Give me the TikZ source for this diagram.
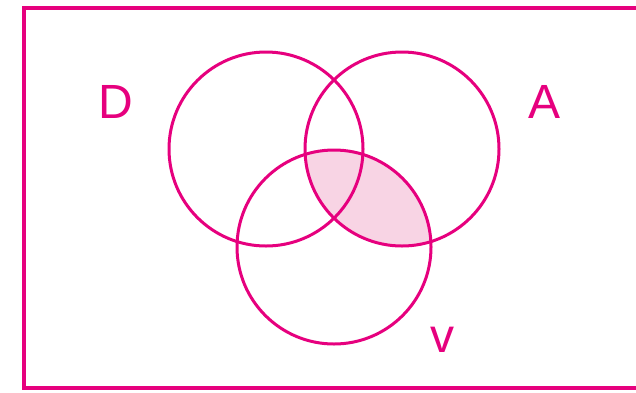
\documentclass[tikz,border=0pt]{standalone}
\usepackage{fontspec}
\setmainfont{Liberation Sans}
\definecolor{mag}{RGB}{230,0,126}
\definecolor{pinkfill}{RGB}{248,212,228}
\begin{document}
\begin{tikzpicture}[x=1pt,y=-1pt,
  setcirc/.style={draw=mag,line width=3pt},
  setlabel/.style={text=mag,font=\fontsize{48}{48}\selectfont,anchor=base,inner sep=0pt}]
\useasboundingbox (0,0) rectangle (636,392);
\coordinate (cD) at (266,149);
\coordinate (cA) at (402,149);
\coordinate (cV) at (334,247);
\begin{scope}
  \clip (cA) circle (97);
  \fill[pinkfill] (cV) circle (97);
\end{scope}
\draw[setcirc] (cD) circle (97);
\draw[setcirc] (cA) circle (97);
\draw[setcirc] (cV) circle (97);
\draw[draw=mag,line width=4pt] (24,8) rectangle (660,388);
\node[setlabel] (D) at (116,118) {D};
\node[setlabel] (A) at (544,118) {A};
\node[setlabel] (V) at (442,352) {v};
\end{tikzpicture}
\end{document}
